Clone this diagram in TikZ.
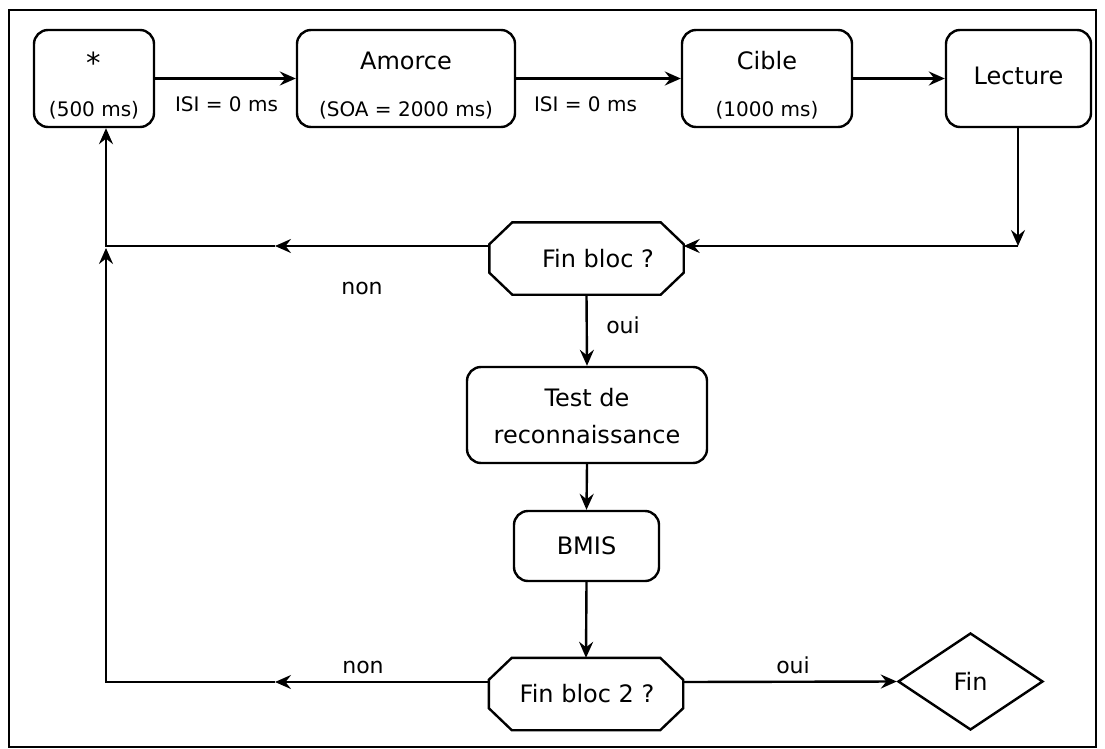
\documentclass[tikz,border=0pt]{standalone}
\usepackage{fontspec}
\setmainfont{DejaVu Sans}
\usetikzlibrary{arrows.meta,shapes.geometric}
\newcommand\tsize{\fontsize{24}{28}\selectfont}
\newcommand\ssize{\fontsize{20}{24}\selectfont}
\newcommand\lsize{\fontsize{22}{26}\selectfont}
\newcommand\octpath[1]{\draw[shapeline] ([xshift=23pt]#1.north west) -- ([xshift=-23pt]#1.north east) -- ([yshift=-22pt]#1.north east) -- ([yshift=22pt]#1.south east) -- ([xshift=-23pt]#1.south east) -- ([xshift=23pt]#1.south west) -- ([yshift=22pt]#1.south west) -- ([yshift=-22pt]#1.north west) -- cycle;}
\begin{document}
\begin{tikzpicture}[x=1pt,y=-1pt,
  shapeline/.style={line width=2.4pt, line join=miter},
  box/.style={draw, line width=2.4pt, rounded corners=14pt, inner sep=0pt},
  oct/.style={inner sep=0pt, minimum width=194pt, minimum height=72pt},
  txt/.style={inner sep=0pt, anchor=base},
  conn/.style={line width=2.4pt, line join=miter},
  arr/.style={conn, -{Stealth[length=16pt,width=14pt,inset=5.5pt]}},
]
\useasboundingbox (0,0) rectangle (1105,749);
\draw[line width=2.4pt] (9,10) rectangle (1096,747);

% top row
\node[box, minimum width=120pt, minimum height=97pt] (star) at (94,78.5) {};
\node[box, minimum width=218pt, minimum height=97pt] (amorce) at (406,78.5) {};
\node[box, minimum width=170pt, minimum height=97pt] (cible) at (767,78.5) {};
\node[box, minimum width=145pt, minimum height=97pt] (lecture) at (1018.5,78.5) {};

\node[txt, font=\fontsize{29}{32}\selectfont] (startxt) at (94,74) {*};
\node[txt, font=\ssize] (startime) at (94,117) {(500 ms)};
\node[txt, font=\tsize] (amorcetxt) at (406,70) {Amorce};
\node[txt, font=\ssize] (soatxt) at (406,116.5) {(SOA = 2000 ms)};
\node[txt, font=\tsize] (cibletxt) at (767,70) {Cible};
\node[txt, font=\ssize] (cibletime) at (767,117) {(1000 ms)};
\node[txt, font=\tsize] (lecturetxt) at (1018.5,85) {Lecture};

\node[txt, font=\ssize] (isia) at (226.5,112) {ISI = 0 ms};
\node[txt, font=\ssize] (isib) at (585.5,112) {ISI = 0 ms};

% decision 1
\node[oct] (finbloc) at (586.5,258.5) {};
\octpath{finbloc}
\node[txt, font=\tsize] (finbloctxt) at (598,267) {Fin bloc ?};

% test, BMIS
\node[box, minimum width=240pt, minimum height=96pt] (test) at (587,415) {};
\node[txt, font=\tsize] (testa) at (587,406) {Test de};
\node[txt, font=\tsize] (testb) at (587,443) {reconnaissance};
\node[box, minimum width=145pt, minimum height=70pt] (bmis) at (586.5,546) {};
\node[txt, font=\tsize] (bmistxt) at (586.5,554) {BMIS};

% decision 2
\node[oct] (finbloc2) at (586,694) {};
\octpath{finbloc2}
\node[txt, font=\tsize] (finbloc2txt) at (587,702) {Fin bloc 2 ?};

\node[draw, line width=2.4pt, diamond, minimum width=145pt, minimum height=97pt, inner sep=0pt, font=\tsize] (fin) at (970.5,681.5) {Fin};

% labels
\node[txt, font=\lsize] (nona) at (362,294) {non};
\node[txt, font=\lsize] (ouia) at (623,333) {oui};
\node[txt, font=\lsize] (nonb) at (363,673) {non};
\node[txt, font=\lsize] (ouib) at (793,673) {oui};

% coordinates
\coordinate (c1) at (1018,246);
\coordinate (m1) at (275,246);
\coordinate (c2) at (106,246);
\coordinate (m2) at (275,682);
\coordinate (c3) at (106,682);

% connectors
\draw[arr] (star.east) -- (amorce.west);
\draw[arr] (amorce.east) -- (cible.west);
\draw[arr] (cible.east) -- (lecture.west);
\draw[arr] (lecture.south -| c1) -- (c1);
\draw[arr] (c1) -- (finbloc.east |- c1);
\draw[arr] (finbloc.west |- c1) -- (m1);
\draw[arr] (m1) -- (c2) -- (c2 |- star.south);
\draw[arr] (finbloc.south) -- (test.north);
\draw[arr] (test.south) -- (bmis.north);
\draw[arr] (bmis.south) -- (finbloc2.north);
\draw[arr] (finbloc2.west |- m2) -- (m2);
\draw[arr] (m2) -- (c3) -- ([yshift=-2pt]c2);
\draw[arr] (finbloc2.east |- m2) -- (fin.west);
\end{tikzpicture}
\end{document}
